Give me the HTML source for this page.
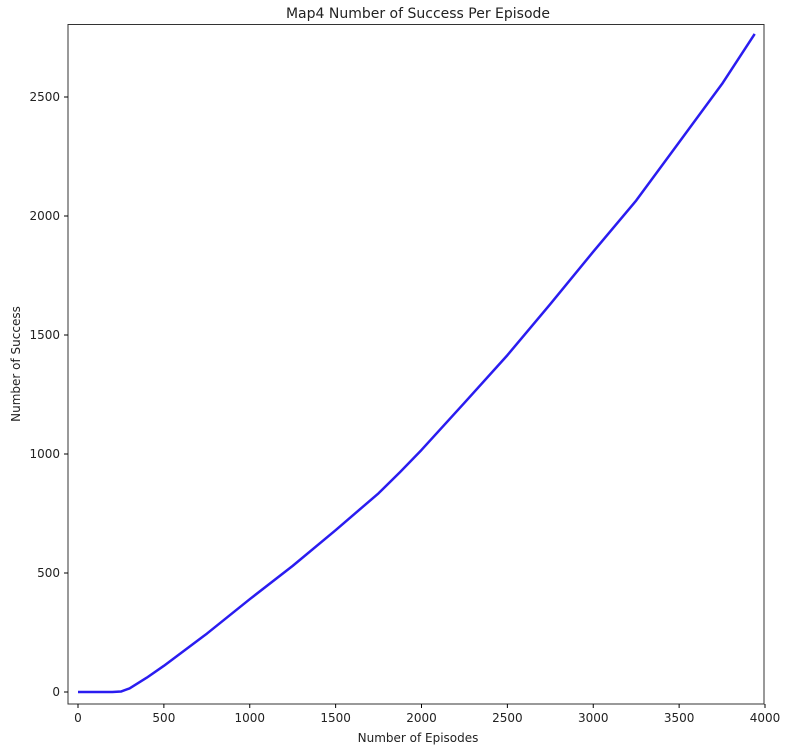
<!DOCTYPE html>
<html><head><meta charset="utf-8"><style>
body{margin:0;background:#fff;font-family:"Liberation Sans","DejaVu Sans",sans-serif;}
svg text{font-family:"DejaVu Sans","Liberation Sans",sans-serif;fill:#222;}
</style></head><body>
<svg id="chart" width="788" height="746">
<rect x="68" y="24.5" width="696" height="679.5" fill="none" stroke="#333" stroke-width="1"/>
<text x="418" y="18" text-anchor="middle" font-size="14">Map4 Number of Success Per Episode</text>
<text x="418" y="742" text-anchor="middle" font-size="12">Number of Episodes</text>
<text x="20" y="364" text-anchor="middle" font-size="12" transform="rotate(-90 20 364)">Number of Success</text>
<g id="xt"></g><g id="yt"></g>
<polyline id="line" fill="none" stroke="#2a1cf0" stroke-width="2.5" stroke-linejoin="round"/>
</svg>
<script>
const episodes=[0,100,200,250,300,400,500,750,1000,1250,1500,1750,1875,2000,2250,2500,2750,3000,3250,3500,3750,3940];
const successes=[0,0,0,2,15,60,110,245,390,530,680,835,924,1017,1215,1415,1630,1850,2065,2310,2555,2765];
const xTicks=[0,500,1000,1500,2000,2500,3000,3500,4000];
const yTicks=[0,500,1000,1500,2000,2500];
const xs=v=>78+v*(687/4000);
const ys=v=>692-v*(119/500);
const NS="http://www.w3.org/2000/svg";
const xt=document.getElementById('xt'),yt=document.getElementById('yt');
xTicks.forEach(t=>{
 const l=document.createElementNS(NS,'line');
 l.setAttribute('x1',xs(t));l.setAttribute('x2',xs(t));l.setAttribute('y1',704);l.setAttribute('y2',708);l.setAttribute('stroke','#000');
 
 
 xt.appendChild(l);
 const s=document.createElementNS(NS,'text');
 s.setAttribute('x',xs(t));s.setAttribute('y',722);s.setAttribute('text-anchor','middle');s.setAttribute('font-size','12');s.textContent=t;
 
 
 xt.appendChild(s);
});
yTicks.forEach(t=>{
 const l=document.createElementNS(NS,'line');
 l.setAttribute('x1',64);l.setAttribute('x2',68);l.setAttribute('y1',ys(t));l.setAttribute('y2',ys(t));l.setAttribute('stroke','#000');
 
 
 yt.appendChild(l);
 const s=document.createElementNS(NS,'text');
 s.setAttribute('x',60);s.setAttribute('y',ys(t)+4);s.setAttribute('text-anchor','end');s.setAttribute('font-size','12');s.textContent=t;
 
 
 yt.appendChild(s);
});
document.getElementById('line').setAttribute('points',episodes.map((e,i)=>xs(e)+','+ys(successes[i])).join(' '));
</script>
</body></html>
